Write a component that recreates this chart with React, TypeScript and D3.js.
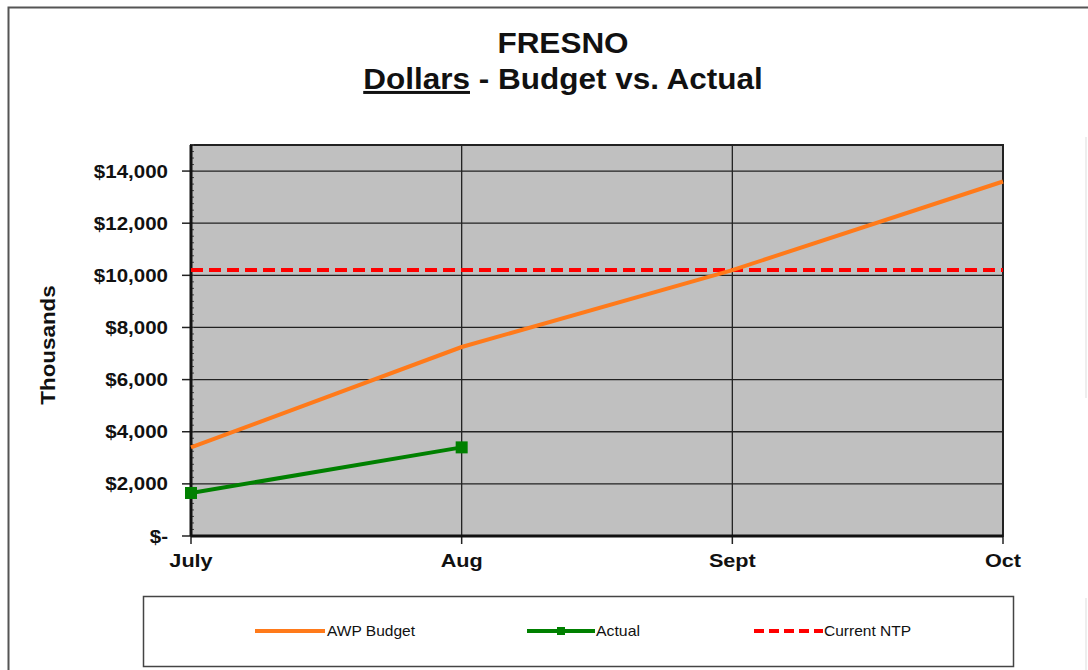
import React from "react";
import * as d3 from "d3";

const categories = ["July", "Aug", "Sept", "Oct"];
const budget = [3400, 7250, 10200, 13600];
const actual = [1650, 3400];
const ntp = [10200, 10200, 10200, 10200];
const yTicks = [0, 2000, 4000, 6000, 8000, 10000, 12000, 14000];
const yLabels = ["$-", "$2,000", "$4,000", "$6,000", "$8,000", "$10,000", "$12,000", "$14,000"];

const W = 1088, H = 670;
const L = 191, R = 1003, T = 145, B = 536;
const FONT = "Arial, 'Liberation Sans', Helvetica, sans-serif";

function SText({ x, y, sx = 1, rotate = 0, children, ...rest }: any) {
  return (
    <text transform={`translate(${x},${y}) rotate(${rotate}) scale(${sx},1)`} {...rest}>
      {children}
    </text>
  );
}

export default function App() {
  const x = d3.scalePoint<string>().domain(categories).range([L, R]);
  const y = d3.scaleLinear().domain([0, 15000]).range([B, T]);
  const line = d3.line<number>().x((_, i) => x(categories[i])!).y((d) => y(d));
  const minor = d3.range(0, 15001, 250);

  return (
    <svg width={W} height={H} style={{ position: "absolute", left: 0, top: 0 }} fontFamily={FONT}>
      <rect x={0} y={0} width={W} height={H} fill="#fff" />
      {/* outer frame */}
      <path d={`M8.5,${H} V7.5 H${W}`} fill="none" stroke="#555" strokeWidth={2} />
      <line x1={1086} x2={1086} y1={137} y2={398} stroke="#ddd" strokeWidth={1} />
      <line x1={1086} x2={1086} y1={598} y2={670} stroke="#ddd" strokeWidth={1} />

      {/* title */}
      <SText x={563} y={53} sx={1.05} textAnchor="middle" fontSize={30} fontWeight="bold" fill="#111">FRESNO</SText>
      <SText x={563} y={89} sx={1.05} textAnchor="middle" fontSize={30} fontWeight="bold" fill="#111">
        <tspan textDecoration="underline">Dollars</tspan> - Budget vs. Actual
      </SText>

      {/* plot area */}
      <rect x={L} y={T} width={R - L} height={B - T} fill="#c0c0c0" />
      {yTicks.slice(1).map((t) => (
        <line key={t} x1={L} x2={R} y1={y(t)} y2={y(t)} stroke="#222" strokeWidth={1.3} />
      ))}
      {categories.slice(1).map((c) => (
        <line key={c} x1={x(c)} x2={x(c)} y1={T} y2={B} stroke="#222" strokeWidth={1.3} />
      ))}
      <rect x={L} y={T} width={R - L} height={B - T} fill="none" stroke="#222" strokeWidth={2} />
      {minor.map((t) => (
        <line key={t} x1={L} x2={L + 3} y1={y(t)} y2={y(t)} stroke="#444" strokeWidth={1} />
      ))}
      {yTicks.map((t) => (
        <line key={t} x1={L - 9} x2={L} y1={y(t)} y2={y(t)} stroke="#222" strokeWidth={1.5} />
      ))}
      {categories.map((c) => (
        <line key={c} x1={x(c)} x2={x(c)} y1={B} y2={B + 8} stroke="#222" strokeWidth={1.5} />
      ))}
      <line x1={L} x2={L} y1={T} y2={B} stroke="#111" strokeWidth={3} />
      <line x1={L} x2={R} y1={B} y2={B} stroke="#111" strokeWidth={3} />

      {/* y labels */}
      {yTicks.map((t, i) => (
        <SText key={t} x={168} y={y(t) + 6.5} sx={1.14} textAnchor="end" fontSize={18} fontWeight="bold" fill="#111">
          {yLabels[i]}
        </SText>
      ))}
      <SText x={55} y={345} rotate={-90} sx={1.12} textAnchor="middle" fontSize={20} fontWeight="bold" fill="#111">
        Thousands
      </SText>
      {categories.map((c) => (
        <SText key={c} x={x(c)} y={567} sx={1.14} textAnchor="middle" fontSize={19} fontWeight="bold" fill="#111">
          {c}
        </SText>
      ))}

      {/* series */}
      <path d={line(ntp)!} fill="none" stroke="#ff0000" strokeWidth={4} strokeDasharray="12,6" />
      <path d={line(budget)!} fill="none" stroke="#ff7a1a" strokeWidth={4} />
      <path d={line(actual)!} fill="none" stroke="#008000" strokeWidth={4} />
      {actual.map((v, i) => (
        <rect key={i} x={x(categories[i])! - 6} y={y(v) - 6} width={12} height={12} fill="#008000" />
      ))}

      {/* legend */}
      <rect x={143.5} y={596.5} width={870} height={70} fill="#fff" stroke="#444" strokeWidth={1.5} />
      <line x1={255} x2={325} y1={631} y2={631} stroke="#ff7a1a" strokeWidth={4} />
      <text x={327} y={636} fontSize={14.5} fill="#111" textLength={88} lengthAdjust="spacingAndGlyphs">AWP Budget</text>
      <line x1={527} x2={595} y1={631} y2={631} stroke="#008000" strokeWidth={4} />
      <rect x={557} y={627} width={8} height={8} fill="#008000" />
      <text x={596} y={636} fontSize={14.5} fill="#111" textLength={44} lengthAdjust="spacingAndGlyphs">Actual</text>
      <line x1={754} x2={823} y1={631} y2={631} stroke="#ff0000" strokeWidth={4} strokeDasharray="10,5" />
      <text x={824} y={636} fontSize={14.5} fill="#111" textLength={87} lengthAdjust="spacingAndGlyphs">Current NTP</text>
    </svg>
  );
}
